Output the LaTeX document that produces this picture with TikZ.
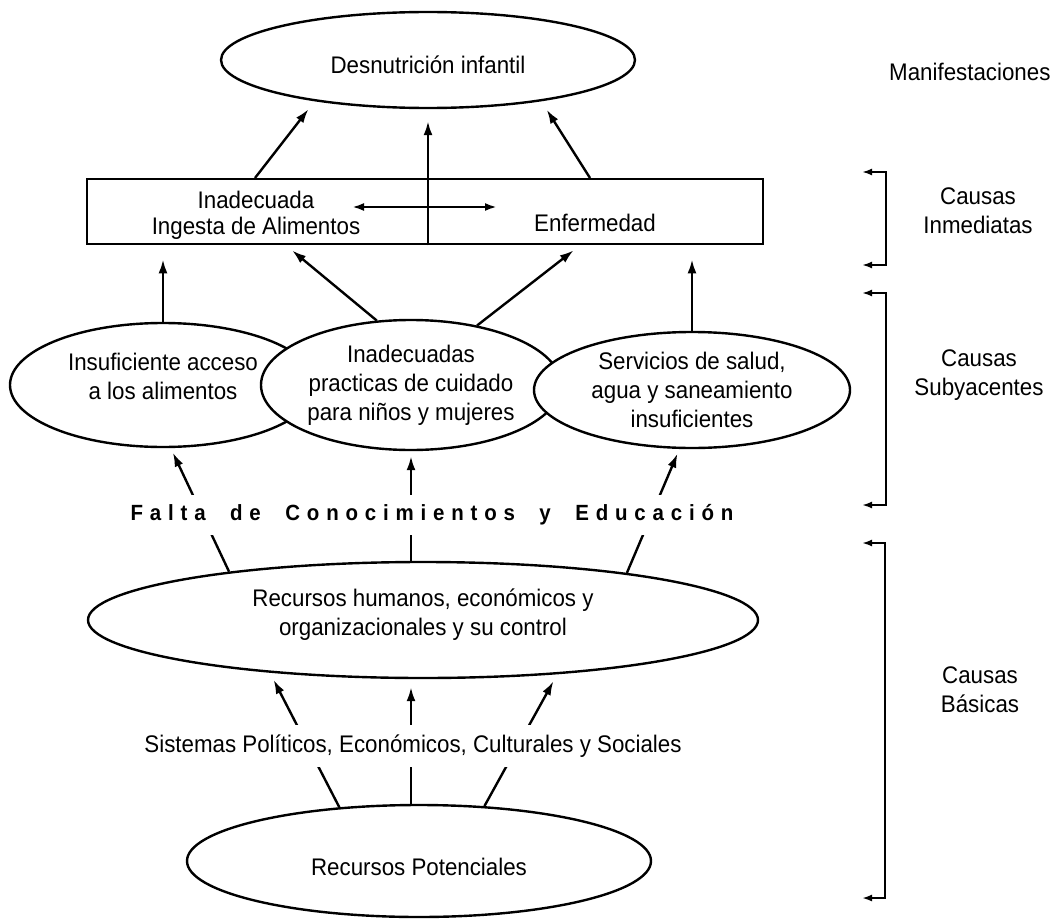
\documentclass[tikz,border=0pt]{standalone}
\usepackage{fontspec}
\setmainfont{Liberation Sans}[FakeStretch=0.93]
\usetikzlibrary{shapes.geometric,arrows.meta,positioning,calc}

\tikzset{
  causa/.style={draw, ellipse, line width=2.4pt, fill=white, inner sep=0pt, align=center},
  texto/.style={align=center, inner sep=1pt},
  flecha/.style={line width=2.4pt, -{Latex[length=14pt,width=9pt]}},
  doble/.style={line width=2.4pt, {Latex[length=12pt,width=8pt]}-{Latex[length=12pt,width=8pt]}},
  llave/.style={line width=2.4pt, {Latex[length=10pt,width=7pt]}-{Latex[length=10pt,width=7pt]}},
  nivel/.style={align=center},
  cruce/.style={fill=white, inner xsep=2pt, inner ysep=10pt}
}
\newcommand{\hueco}{\hspace{12pt}}

\begin{document}
\begin{tikzpicture}[x=1pt, y=-1pt, font=\fontsize{24}{29}\selectfont]
\useasboundingbox (0,0) rectangle (1057,923);
% manifestacion
\node[causa, minimum width=414, minimum height=96] (desn) at (428,60) {};
\node[texto] (desn-txt) at ([yshift=-5pt]desn.center) {Desnutrición infantil};
\node[anchor=east] (manif) at (1054,72) {Manifestaciones};

% causas inmediatas
\node[draw, line width=2.4pt, minimum width=676, minimum height=65, inner sep=0pt, anchor=north west] (inmed) at (86,178) {};
\node[texto, font=\fontsize{24}{26}\selectfont] (ingesta) at (256,215) {Inadecuada\\Ingesta de Alimentos};
\node (enferm) at (595,223) {Enfermedad};
\coordinate (dobleA) at (352,207);
\coordinate (dobleB) at (497,207);
\draw[doble] (dobleA) -- (dobleB);
\draw[flecha, shorten >=12pt] (inmed.south -| desn.south) -- (desn.south);
\draw[flecha, shorten >=10pt] ([xshift=169pt]inmed.north west) -- (desn.200);
\draw[flecha, shorten >=10pt] ([xshift=504pt]inmed.north west) -- (desn.340);

% causas subyacentes
\node[causa, minimum width=306, minimum height=124] (acceso) at (163,385) {};
\node[texto] (acceso-txt) at ([yshift=9pt]acceso.center) {Insuficiente acceso\\a los alimentos};
\node[causa, minimum width=300, minimum height=130] (cuidado) at (411,385) {Inadecuadas\\practicas de cuidado\\para niños y mujeres};
\node[causa, minimum width=316, minimum height=116] (salud) at (692,390) {Servicios de salud,\\agua y saneamiento\\insuficientes};
\draw[flecha, shorten >=14pt] (acceso.north) -- (acceso.north |- inmed.south);
\draw[flecha, shorten >=8pt] (cuidado.118) -- ([xshift=200pt]inmed.south west);
\draw[flecha, shorten >=8pt] (cuidado.42) -- ([xshift=494pt]inmed.south west);
\draw[flecha, shorten >=14pt] (salud.north) -- (salud.north |- inmed.south);

% causas basicas
\node[causa, minimum width=670, minimum height=116] (recursos) at (423,620) {};
\node[texto] (recursos-txt) at ([yshift=5pt]recursos.center) {Recursos humanos, económicos y\\organizacionales y su control};
\draw[flecha, shorten >=5pt] (recursos.166) -- (acceso.277);
\draw[flecha, shorten >=5pt] (recursos.north -| cuidado.south) -- (cuidado.south);
\draw[flecha, shorten >=5pt] (recursos.13) -- (salud.258);
\node[cruce, font=\bfseries\fontsize{22}{26}\selectfont\addfontfeature{LetterSpace=31}] (falta) at (432,515) {Falta\hueco{} de\hueco{} Conocimientos\hueco{} y\hueco{} Educación};

\node[causa, minimum width=464, minimum height=112] (potenc) at (419,861) {};
\node[texto] (potenc-txt) at ([yshift=-6pt]potenc.center) {Recursos Potenciales};
\draw[flecha, shorten >=8pt] (potenc.146) -- (recursos.199);
\draw[flecha, shorten >=8pt] (potenc.north -| cuidado.south) -- (recursos.south -| cuidado.south);
\draw[flecha, shorten >=8pt] (potenc.40) -- (recursos.338);
\node[cruce] (sistemas) at (413,746) {Sistemas Políticos, Económicos, Culturales y Sociales};

% llaves de nivel
\draw[llave] (862,172) -- (886,172) -- (886,265) -- (862,265);
\draw[llave] (862,293) -- (886,293) -- (886,505) -- (862,505);
\draw[llave] (862,543) -- (885,543) -- (885,898) -- (862,898);
\node[nivel] (inmediatas) at (978,211) {Causas\\Inmediatas};
\node[nivel] (subyac) at (979,375) {Causas\\Subyacentes};
\node[nivel] (basicas) at (980,690) {Causas\\Básicas};
\end{tikzpicture}
\end{document}
